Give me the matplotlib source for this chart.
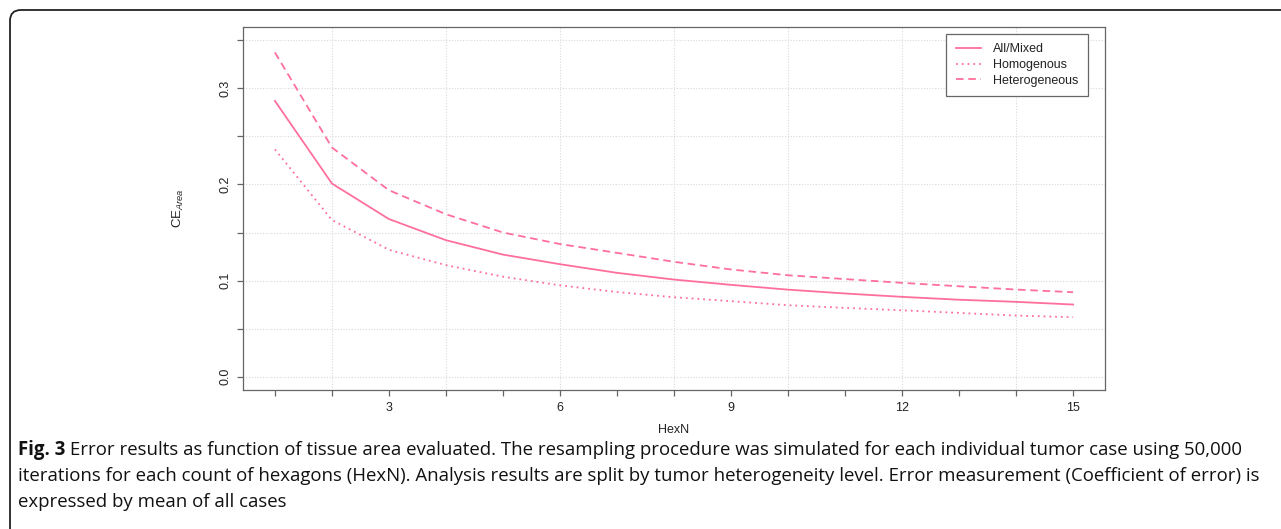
import matplotlib
matplotlib.use('Agg')
import matplotlib.pyplot as plt
from matplotlib.patches import FancyBboxPatch

plt.rcParams['font.family'] = ['Liberation Sans', 'DejaVu Sans']
plt.rcParams['mathtext.fontset'] = 'custom'
plt.rcParams['mathtext.rm'] = 'Liberation Sans'
plt.rcParams['mathtext.it'] = 'Liberation Sans:italic'

# data
hexn = list(range(1, 16))
all_mixed = [0.287, 0.201, 0.164, 0.142, 0.127, 0.117, 0.108, 0.101, 0.0955,
             0.0905, 0.0865, 0.083, 0.080, 0.0778, 0.075]
homogenous = [0.2365, 0.163, 0.132, 0.116, 0.104, 0.095, 0.088, 0.0826, 0.0785,
              0.0743, 0.0715, 0.069, 0.0663, 0.0635, 0.0618]
heterogeneous = [0.3375, 0.2385, 0.194, 0.169, 0.150, 0.138, 0.1288, 0.1195, 0.1115,
                 0.1055, 0.1015, 0.0976, 0.094, 0.0906, 0.0878]
series_names = ['All/Mixed', 'Homogenous', 'Heterogeneous']

caption_bold = 'Fig. 3'
caption_lines = [
    ' Error results as function of tissue area evaluated. The resampling procedure was simulated '
    'for each individual tumor case using 50,000',
    'iterations for each count of hexagons (HexN). Analysis results are split by tumor heterogeneity '
    'level. Error measurement (Coefficient of error) is',
    'expressed by mean of all cases',
]

W, H = 1281, 529
pink = '#ff6f9c'
axis_gray = '#666666'
txt = '#222222'

fig = plt.figure(figsize=(W / 100, H / 100), dpi=100)

# rounded frame, runs off the right and bottom edges
frame = FancyBboxPatch((10 / W, -0.2), 1.2, 1 - 10 / H + 0.2, transform=fig.transFigure,
                       boxstyle='round,pad=0,rounding_size=0.0085',
                       facecolor='none', edgecolor='#222222', linewidth=1.3,
                       mutation_aspect=W / H)
fig.patches.append(frame)

ax = fig.add_axes([243 / W, 1 - 390 / H, (1105 - 243) / W, (390 - 27) / H])

ax.plot(hexn, all_mixed, color=pink, lw=1.3, label=series_names[0])
ax.plot(hexn, homogenous, color=pink, lw=1.3, dashes=(1, 2.2), label=series_names[1])
ax.plot(hexn, heterogeneous, color=pink, lw=1.3, dashes=(4.2, 2.6), label=series_names[2])

ax.set_xlim(0.44, 15.56)
ax.set_ylim(-0.014, 0.364)

# grid like R's grid(): light dotted lines
for gx in range(2, 15, 2):
    ax.axvline(gx, color='#d9d9d9', lw=0.8, ls=(0, (1, 1.5)), zorder=0)
for i in range(8):
    ax.axhline(i * 0.05, color='#d9d9d9', lw=0.8, ls=(0, (1, 1.5)), zorder=0)

ax.set_xticks(hexn)
ax.set_xticklabels([str(v) if v % 3 == 0 else '' for v in hexn])
yt = [i * 0.05 for i in range(8)]
ax.set_yticks(yt)
ax.set_yticklabels(['%.1f' % v if i % 2 == 0 else '' for i, v in enumerate(yt)],
                   rotation=90, va='center')
ax.tick_params(direction='out', length=4.5, width=0.9, color=axis_gray,
               labelsize=9, labelcolor=txt, pad=4)
for sp in ax.spines.values():
    sp.set_color(axis_gray)
    sp.set_linewidth(0.9)

ax.text(0.5, -0.11, 'HexN', transform=ax.transAxes, ha='center', va='center',
        fontsize=9, color=txt)
ax.text((178 - 243) / 862, 0.5, r'$\mathrm{CE}_{Area}$', transform=ax.transAxes,
        rotation=90, ha='center', va='center', fontsize=9.5, color=txt)

leg = ax.legend(loc='upper right', bbox_to_anchor=(0.98, 0.981), fontsize=9,
                frameon=True, fancybox=False, edgecolor=axis_gray, framealpha=1,
                handlelength=2.0, handletextpad=1.0, labelspacing=0.3,
                borderpad=0.75, borderaxespad=0)
leg.get_frame().set_linewidth(0.9)
for t in leg.get_texts():
    t.set_color(txt)

# caption, fitted to the reference line width
cap_font = ['Open Sans', 'DejaVu Sans']
fig.canvas.draw()
r = fig.canvas.get_renderer()
size = 12
tb = fig.text(0, 0, caption_bold, fontsize=size, family=cap_font, weight='bold')
tl = fig.text(0, 0, caption_lines[0], fontsize=size, family=cap_font)
w0 = tb.get_window_extent(r).width + tl.get_window_extent(r).width
tb.remove()
tl.remove()
size = size * (1236 - 18) / w0

x0 = 18 / W
ys = [450, 476, 502]
bold = fig.text(x0, 1 - ys[0] / H, caption_bold, fontsize=size, family=cap_font,
                weight='bold', va='center', color='#111111')
bw = bold.get_window_extent(r).width / W
fig.text(x0 + bw, 1 - ys[0] / H, caption_lines[0], fontsize=size, family=cap_font,
         va='center', color='#111111')
for line, y in zip(caption_lines[1:], ys[1:]):
    fig.text(x0, 1 - y / H, line, fontsize=size, family=cap_font, va='center',
             color='#111111')

fig.savefig('out.png', dpi=100)
